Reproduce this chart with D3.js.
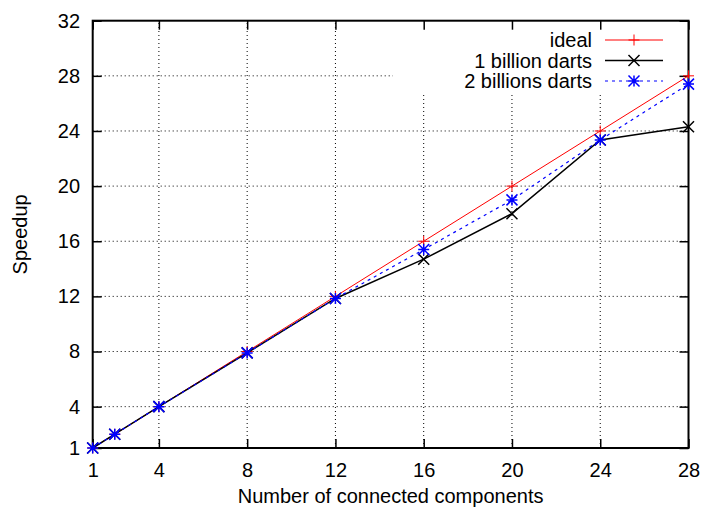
<!DOCTYPE html>
<html>
<head>
<meta charset="utf-8">
<script src="https://cdn.jsdelivr.net/npm/d3@7"></script>
<style>
  body { margin: 0; background: #fff; }
  text { font-family: "Liberation Sans", Arial, Helvetica, sans-serif; font-size: 20px; fill: #000; }
</style>
</head>
<body>
<svg width="702" height="511"></svg>
<script>
// number of connected components (x) and measured speedups
var components = [1, 2, 4, 8, 12, 16, 20, 24, 28];
var ideal = [1, 2, 4, 8, 12, 16, 20, 24, 28];
var oneBillion = [1, 2, 4, 7.9, 11.85, 14.7, 18.0, 23.35, 24.3];
var twoBillions = [1, 2, 4, 7.9, 11.85, 15.4, 19.0, 23.35, 27.4];

var xTicks = [1, 4, 8, 12, 16, 20, 24, 28];
var yTicks = [1, 4, 8, 12, 16, 20, 24, 28, 32];

var series = [
    { name: "ideal", values: ideal, color: "#ff0000", width: 1, dash: null, marker: "plus" },
    { name: "1 billion darts", values: oneBillion, color: "#000000", width: 1.5, dash: null, marker: "cross" },
    { name: "2 billions darts", values: twoBillions, color: "#0000ff", width: 1.2, dash: "3,4", marker: "star" }
];

var svg = d3.select("svg");

var plotLeft = 92.7, plotRight = 688.5, plotTop = 20.7, plotBottom = 448;

var x = d3.scaleLinear().domain([1, 28]).range([plotLeft, plotRight]);
var y = d3.scaleLinear().domain([1, 32]).range([plotBottom, plotTop]);

// grid lines (dotted)
var grid = svg.append("g")
    .attr("stroke", "#000")
    .attr("stroke-width", 1)
    .attr("stroke-dasharray", "1,3");

grid.selectAll(".gx")
    .data(xTicks.slice(1, -1))
    .enter().append("line")
    .attr("x1", function (d) { return x(d); })
    .attr("x2", function (d) { return x(d); })
    .attr("y1", plotBottom)
    .attr("y2", plotTop);

grid.selectAll(".gy")
    .data(yTicks.slice(1, -1))
    .enter().append("line")
    .attr("x1", plotLeft)
    .attr("x2", plotRight)
    .attr("y1", function (d) { return y(d); })
    .attr("y2", function (d) { return y(d); });

// opaque key area hides the grid behind the legend
svg.append("rect")
    .attr("x", 393)
    .attr("y", plotTop)
    .attr("width", plotRight - 393)
    .attr("height", 95 - plotTop)
    .attr("fill", "#fff");

// axes with inward ticks, mirrored on top and right
svg.append("g")
    .attr("transform", "translate(0," + plotBottom + ")")
    .call(d3.axisBottom(x).tickValues(xTicks).tickSizeInner(-9).tickSizeOuter(0).tickPadding(15));

svg.append("g")
    .attr("transform", "translate(0," + plotTop + ")")
    .call(d3.axisTop(x).tickValues(xTicks).tickSizeInner(-9).tickSizeOuter(0).tickFormat(""));

svg.append("g")
    .attr("transform", "translate(" + plotLeft + ",0)")
    .call(d3.axisLeft(y).tickValues(yTicks).tickSizeInner(-9).tickSizeOuter(0).tickPadding(12.7));

svg.append("g")
    .attr("transform", "translate(" + plotRight + ",0)")
    .call(d3.axisRight(y).tickValues(yTicks).tickSizeInner(-9).tickSizeOuter(0).tickFormat(""));

svg.selectAll(".domain").remove();
svg.selectAll(".tick line").attr("stroke", "#000").attr("stroke-width", 1.5);
svg.selectAll(".tick text")
    .style("font-family", "'Liberation Sans', Arial, sans-serif")
    .style("font-size", "20px")
    .attr("fill", "#000");

// frame
svg.append("rect")
    .attr("x", plotLeft)
    .attr("y", plotTop)
    .attr("width", plotRight - plotLeft)
    .attr("height", plotBottom - plotTop)
    .attr("fill", "none")
    .attr("stroke", "#000")
    .attr("stroke-width", 2);

// axis titles
svg.append("text")
    .attr("x", (plotLeft + plotRight) / 2)
    .attr("y", 503)
    .attr("text-anchor", "middle")
    .text("Number of connected components");

svg.append("text")
    .attr("transform", "translate(27," + ((plotTop + plotBottom) / 2) + ") rotate(-90)")
    .attr("text-anchor", "middle")
    .text("Speedup");

function markerPath(type, cx, cy) {
    var s = 5.5;
    var plus = "M" + (cx - s) + "," + cy + "H" + (cx + s) + "M" + cx + "," + (cy - s) + "V" + (cy + s);
    var cross = "M" + (cx - s) + "," + (cy - s) + "L" + (cx + s) + "," + (cy + s) +
        "M" + (cx - s) + "," + (cy + s) + "L" + (cx + s) + "," + (cy - s);
    if (type === "plus") return plus;
    if (type === "cross") return cross;
    return plus + cross;
}

var line = d3.line()
    .x(function (d) { return x(d[0]); })
    .y(function (d) { return y(d[1]); });

series.forEach(function (s, i) {
    var pts = components.map(function (c, j) { return [c, s.values[j]]; });
    var g = svg.append("g");

    g.append("path")
        .attr("d", line(pts))
        .attr("fill", "none")
        .attr("stroke", s.color)
        .attr("stroke-width", s.width)
        .attr("stroke-dasharray", s.dash);

    g.selectAll("path.mark")
        .data(pts)
        .enter().append("path")
        .attr("class", "mark")
        .attr("d", function (d) { return markerPath(s.marker, x(d[0]), y(d[1])); })
        .attr("stroke", s.color)
        .attr("stroke-width", s.marker === "plus" ? 1 : 1.5)
        .attr("fill", "none");

    // legend entry
    var ly = 40 + i * 20.5;
    g.append("text")
        .attr("x", 592)
        .attr("y", ly + 7)
        .attr("text-anchor", "end")
        .text(s.name);
    g.append("line")
        .attr("x1", 605)
        .attr("x2", 663)
        .attr("y1", ly)
        .attr("y2", ly)
        .attr("stroke", s.color)
        .attr("stroke-width", s.width)
        .attr("stroke-dasharray", s.dash);
    g.append("path")
        .attr("d", markerPath(s.marker, 634, ly))
        .attr("stroke", s.color)
        .attr("stroke-width", s.marker === "plus" ? 1 : 1.5)
        .attr("fill", "none");
});
</script>
</body>
</html>
